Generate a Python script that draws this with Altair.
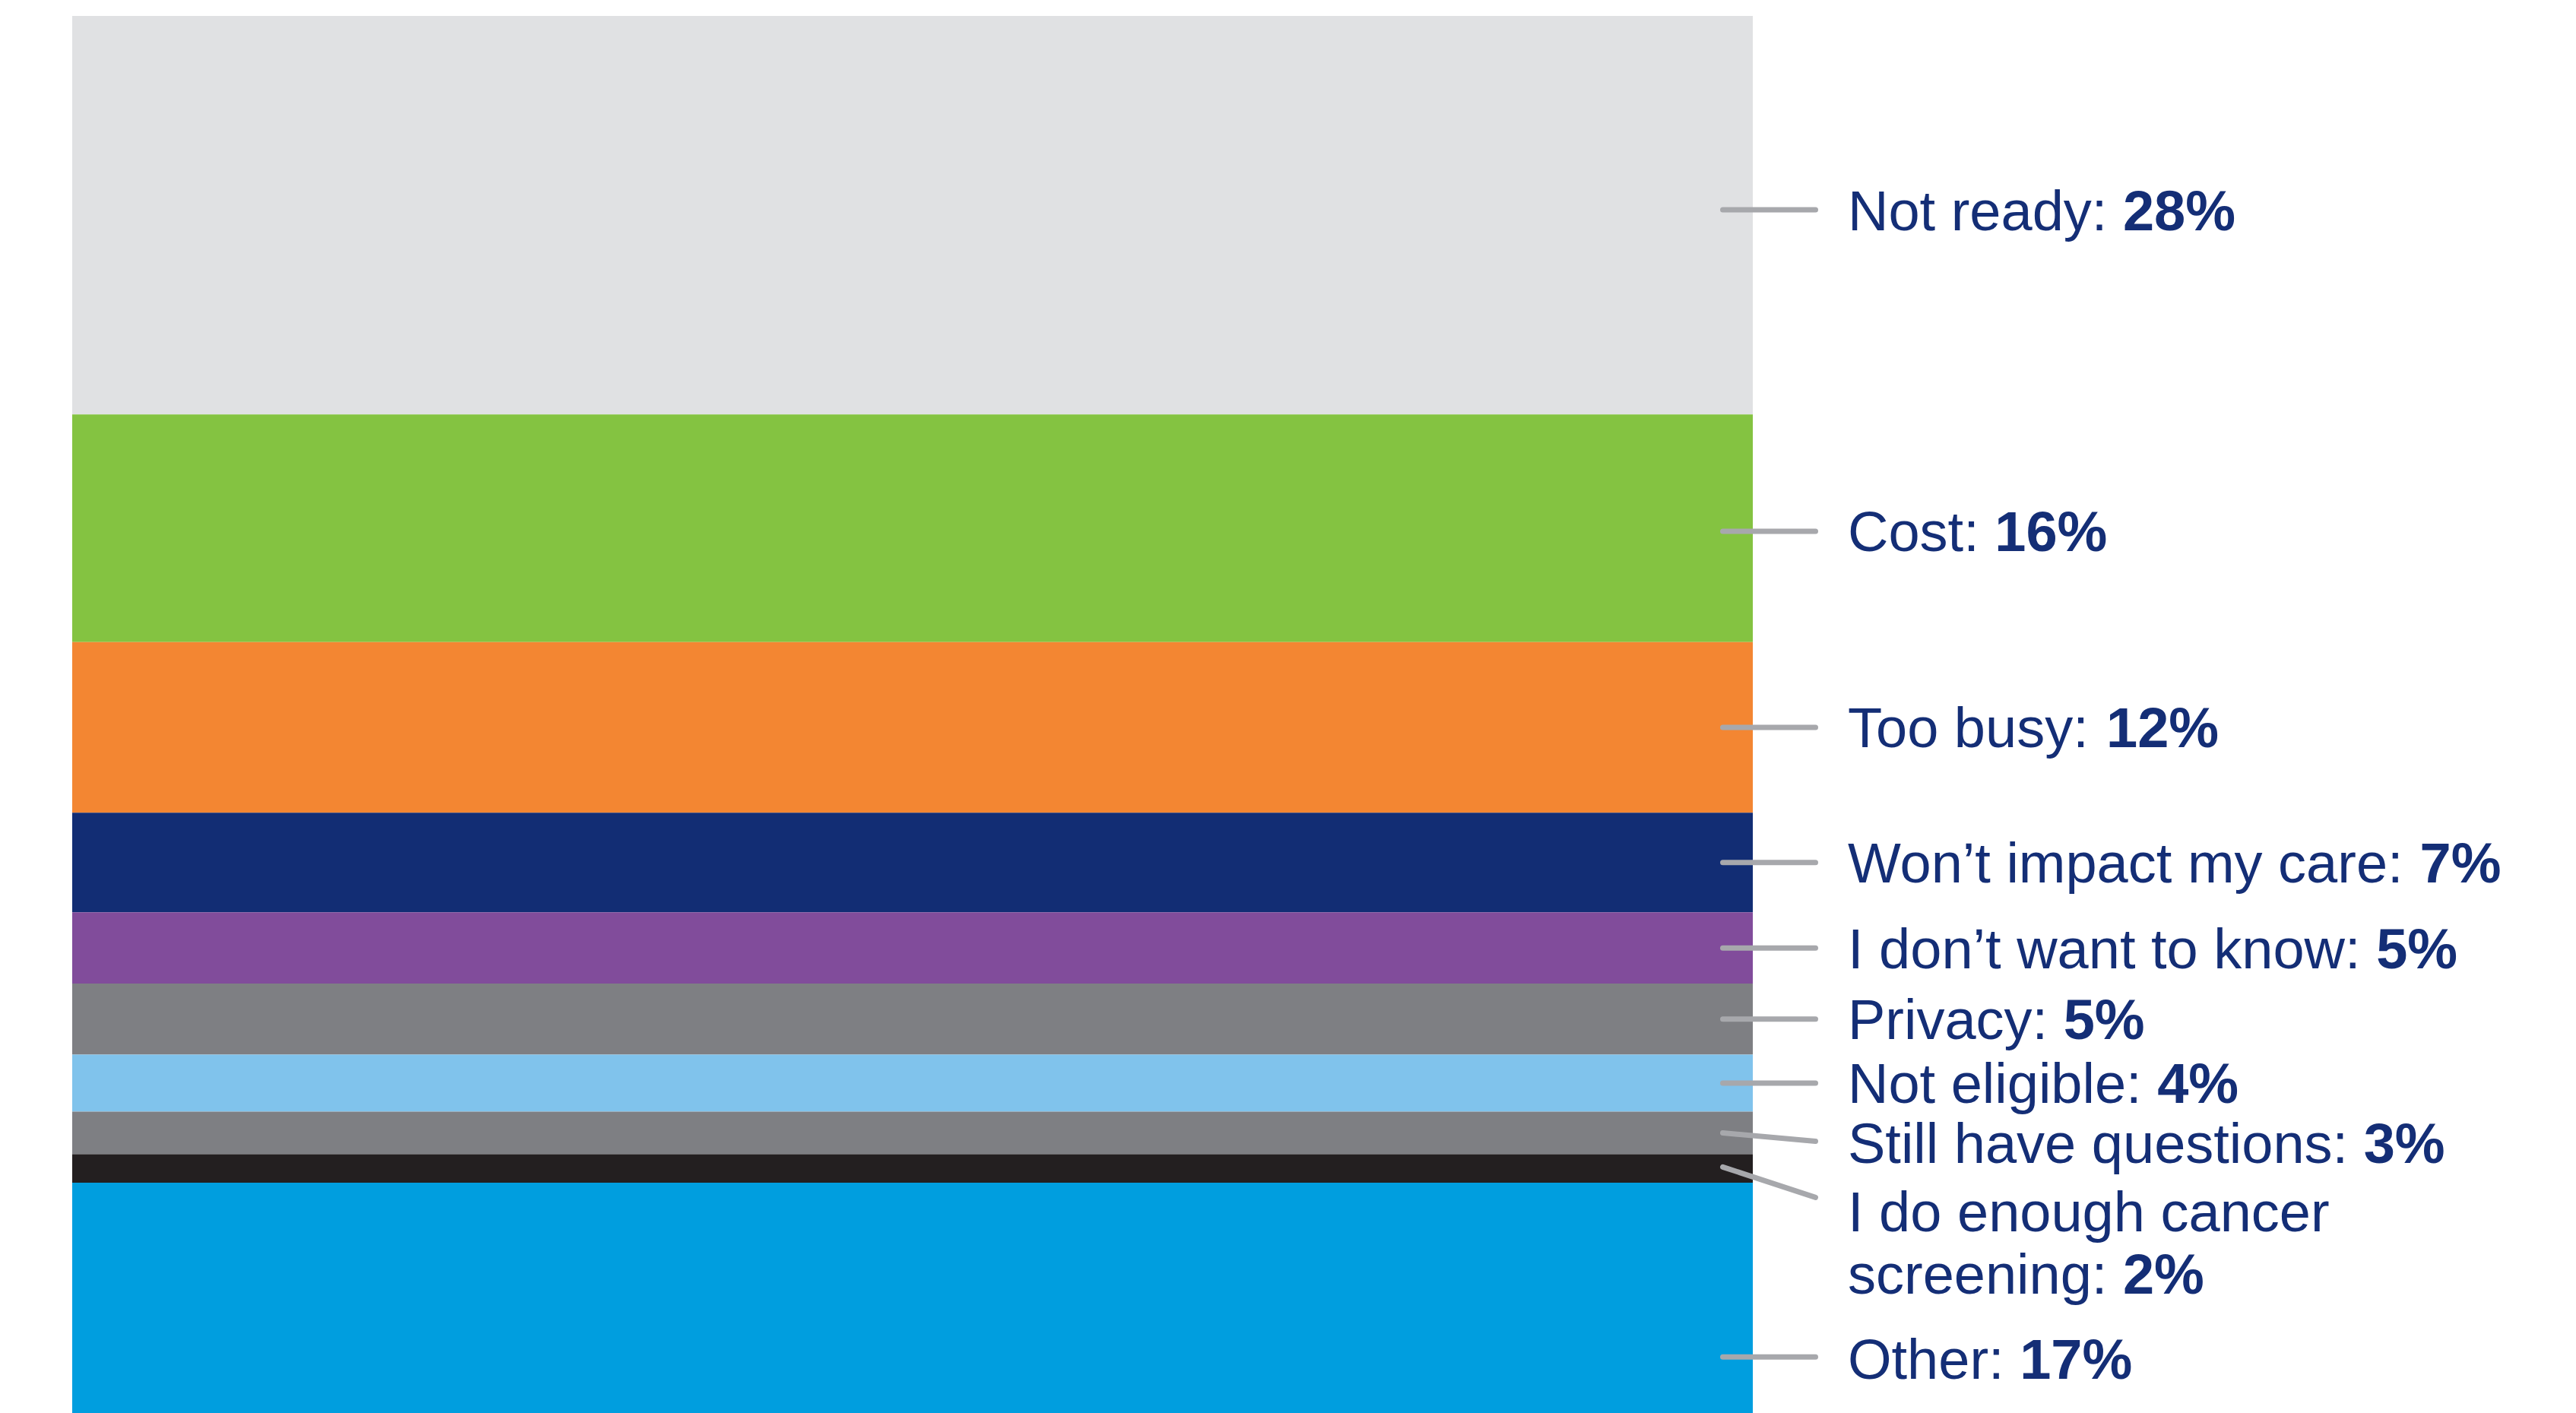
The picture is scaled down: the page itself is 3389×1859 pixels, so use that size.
import altair as alt
import pandas as pd

# ---- data ----
categories = [
    "Not ready", "Cost", "Too busy", "Won’t impact my care", "I don’t want to know",
    "Privacy", "Not eligible", "Still have questions", "I do enough cancer screening", "Other",
]
values = [28, 16, 12, 7, 5, 5, 4, 3, 2, 17]
colors = [
    "#e0e1e3", "#84c341", "#f38632", "#122d74", "#814c9b",
    "#7e7f83", "#80c3ec", "#7e7f83", "#231f20", "#009edf",
]

# ---- layout / style ----
FONT = "Liberation Sans"
FS = 74
TEXT_COLOR = "#142e76"
LEADER_COLOR = "#a7a8ac"
PLOT_W = 2211
PLOT_H = 1838
PX_PER_PCT = 18.72
Y_MAX = PLOT_H / PX_PER_PCT
LEADER_X0 = 2171.5
LEADER_X1 = 2293.5
TEXT_X = 2336
LINE_H = 82

wraps = {"I do enough cancer screening": ["I do enough cancer", "screening"]}
# pixel nudges: (leader start, leader end, text cap centre)
nudges = {
    "Not ready": (-7, -7, -7),
    "Cost": (4, 4, 4),
    "Still have questions": (0, 11, 13),
    "I do enough cancer screening": (-2, 38, 56),
    "Other": (70, 70, 72),
}

# Arial / Liberation Sans advance widths (1/1000 em)
W = {" ": 278, ":": 278, "’": 222, "C": 722, "I": 278, "N": 722, "O": 778, "P": 667,
     "S": 667, "T": 611, "W": 944, "a": 556, "b": 556, "c": 500, "d": 556, "e": 556,
     "g": 556, "h": 556, "i": 222, "k": 500, "l": 222, "m": 833, "n": 556, "o": 556,
     "p": 556, "q": 556, "r": 333, "s": 500, "t": 278, "u": 556, "v": 500, "w": 722,
     "y": 500}
KERN = {"To": -74}


def text_w(s):
    w = sum(W.get(c, 556) for c in s)
    w += sum(KERN.get(s[k:k + 2], 0) for k in range(len(s) - 1))
    return w / 1000 * FS


# ---- tables ----
rows, leaders, reg, bold = [], [], [], []
acc = 0
for i, (c, v) in enumerate(zip(categories, values)):
    rows.append({"category": c, "start": acc, "end": acc + v, "x0": 0, "x1": 1})
    mid = acc + v / 2
    s, e, t = nudges.get(c, (0, 0, 0))
    leaders.append({"category": c, "y0": mid + s / PX_PER_PCT, "y1": mid + e / PX_PER_PCT})
    lines = wraps.get(c, [c])
    for j, ln in enumerate(lines):
        txt = ln + (": " if j == len(lines) - 1 else "")
        ypct = mid + (t + j * LINE_H) / PX_PER_PCT
        reg.append({"category": c, "text": txt, "y": ypct})
        if j == len(lines) - 1:
            bold.append({"category": c, "text": f"{v}%", "y": ypct,
                         "bx": (TEXT_X + text_w(txt)) / PLOT_W})
    acc += v

bars_df = pd.DataFrame(rows)
lead_df = pd.DataFrame(leaders)
reg_df = pd.DataFrame(reg)
bold_df = pd.DataFrame(bold)

yscale = alt.Scale(domain=[0, Y_MAX], reverse=True, nice=False, zero=False)
xscale = alt.Scale(domain=[0, 1], nice=False, zero=False)

bar = alt.Chart(bars_df).mark_rect(clip=True).encode(
    x=alt.X("x0:Q", scale=xscale, axis=None),
    x2="x1:Q",
    y=alt.Y("start:Q", scale=yscale, axis=None),
    y2="end:Q",
    color=alt.Color("category:N", scale=alt.Scale(domain=categories, range=colors), legend=None),
)

lead = alt.Chart(lead_df).mark_rule(strokeWidth=7, strokeCap="round", color=LEADER_COLOR).encode(
    x=alt.value(LEADER_X0),
    x2=alt.value(LEADER_X1),
    y=alt.Y("y0:Q", scale=yscale, axis=None),
    y2="y1:Q",
)

txt_reg = alt.Chart(reg_df).mark_text(
    align="left", baseline="alphabetic", dy=FS * 0.358, font=FONT, fontSize=FS,
    fontWeight="normal", color=TEXT_COLOR,
).encode(
    x=alt.value(TEXT_X),
    y=alt.Y("y:Q", scale=yscale, axis=None),
    text="text:N",
)

txt_bold = alt.Chart(bold_df).mark_text(
    align="left", baseline="alphabetic", dy=FS * 0.358, font=FONT, fontSize=FS,
    fontWeight="bold", color=TEXT_COLOR,
).encode(
    x=alt.X("bx:Q", scale=xscale, axis=None),
    y=alt.Y("y:Q", scale=yscale, axis=None),
    text="text:N",
)

chart = alt.layer(bar, lead, txt_reg, txt_bold).properties(
    width=PLOT_W,
    height=PLOT_H,
    padding={"left": 87, "top": 13, "right": 1060, "bottom": 0},
    autosize=alt.AutoSizeParams(type="none"),
    background="white",
).configure_view(stroke=None)

chart.save("out.html", embed_options={"renderer": "svg", "actions": False})
